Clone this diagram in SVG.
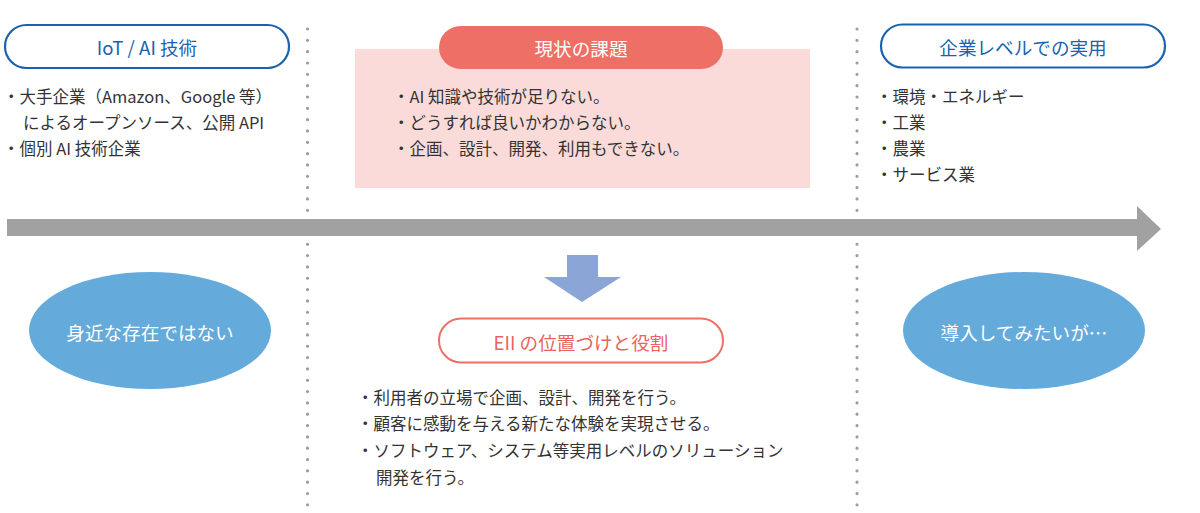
<svg xmlns="http://www.w3.org/2000/svg" width="1200" height="513" viewBox="0 0 1200 513">
<style>
text{font-family:"Noto Sans CJK JP","Noto Sans",sans-serif}
.t{font-size:18.6px;text-anchor:middle;dominant-baseline:central;font-weight:400}
.blue{fill:#1a62b0}
.wh{fill:#ffffff}
.red{fill:#e8645c}
.li{font-size:16.5px;fill:#333333;dominant-baseline:central}
.dot{stroke:#9d9d9d;stroke-width:3.2;stroke-linecap:round;stroke-dasharray:0 11.33;fill:none}
.pillb{fill:#ffffff;stroke:#1a62b0;stroke-width:2.2}
.ell{fill:#64aadb}
</style>
<rect width="1200" height="513" fill="#ffffff"/>
<g id="dividers">
<line class="dot" x1="307.5" y1="29" x2="307.5" y2="506"/>
<line class="dot" x1="857" y1="29" x2="857" y2="506"/>
</g>
<g id="connectors">
<polygon id="timeline" points="7,219 1137,219 1137,206 1161,229 1137,251 1137,236 7,236" fill="#a0a1a0"/>
<polygon id="down-arrow" points="567,255 598,255 598,277 621,277 582,302 544,277 567,277" fill="#8aa5d6"/>
</g>
<g id="iot-ai">
<rect class="pillb" x="5" y="25" width="284" height="43" rx="21.5"/>
<text class="t blue" x="147" y="46.5">IoT / AI 技術</text>
<text class="li" x="3" y="96">・大手企業（Amazon、Google 等）</text>
<text class="li" x="23" y="122">によるオープンソース、公開 API</text>
<text class="li" x="3" y="148">・個別 AI 技術企業</text>
</g>
<g id="current-issues">
<rect x="355" y="49" width="455" height="139" fill="#fadbd9"/>
<rect x="439" y="26" width="284" height="43" rx="21.5" fill="#ed6f66"/>
<text class="t wh" x="581" y="47.5">現状の課題</text>
<text class="li" x="393" y="96">・AI 知識や技術が足りない。</text>
<text class="li" x="393" y="122">・どうすれば良いかわからない。</text>
<text class="li" x="393" y="148">・企画、設計、開発、利用もできない。</text>
</g>
<g id="enterprise">
<rect class="pillb" x="881" y="24.5" width="284" height="43" rx="21.5"/>
<text class="t blue" x="1023" y="46.5">企業レベルでの実用</text>
<text class="li" x="876" y="96">・環境・エネルギー</text>
<text class="li" x="876" y="122">・工業</text>
<text class="li" x="876" y="148">・農業</text>
<text class="li" x="876" y="174">・サービス業</text>
</g>
<g id="not-familiar">
<ellipse class="ell" cx="150" cy="330.5" rx="121" ry="58.5"/>
<text class="t wh" x="150" y="331">身近な存在ではない</text>
</g>
<g id="want-to-adopt">
<ellipse class="ell" cx="1024" cy="330.5" rx="121" ry="58.5"/>
<text class="t wh" x="1024" y="331">導入してみたいが…</text>
</g>
<g id="eii-role">
<rect x="439" y="318.5" width="284" height="44" rx="22" fill="#ffffff" stroke="#ed6f66" stroke-width="2"/>
<text class="t red" x="581" y="341">EII の位置づけと役割</text>
<text class="li" x="357" y="397">・利用者の立場で企画、設計、開発を行う。</text>
<text class="li" x="357" y="423">・顧客に感動を与える新たな体験を実現させる。</text>
<text class="li" x="357" y="450">・ソフトウェア、システム等実用レベルのソリューション</text>
<text class="li" x="376" y="477">開発を行う。</text>
</g>
</svg>
